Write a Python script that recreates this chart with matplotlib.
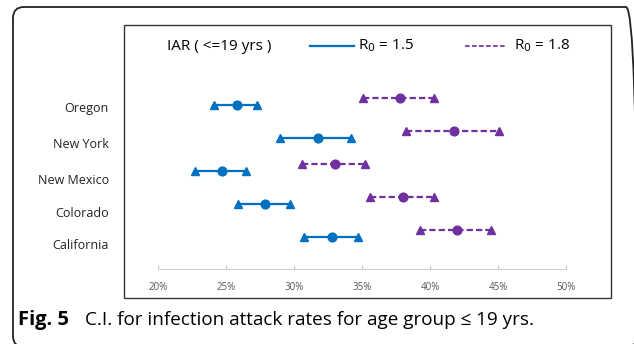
import numpy as np
import matplotlib
matplotlib.use("Agg")
import matplotlib.pyplot as plt
from matplotlib.lines import Line2D
from matplotlib.patches import Rectangle, FancyBboxPatch

plt.rcParams['font.family'] = ['Open Sans', 'DejaVu Sans']

# data (percent), rows listed bottom -> top
states = ["California", "Colorado", "New Mexico", "New York", "Oregon"]
r15_low = [30.7, 25.9, 22.7, 29.0, 24.1]
r15_mid = [32.8, 27.9, 24.7, 31.8, 25.8]
r15_high = [34.7, 29.7, 26.5, 34.2, 27.3]
r18_low = [39.3, 35.6, 30.6, 38.2, 35.1]
r18_mid = [42.0, 38.0, 33.0, 41.8, 37.8]
r18_high = [44.5, 40.3, 35.2, 45.1, 40.3]
xticks = [20, 25, 30, 35, 40, 45, 50]

blue = "#0070C0"
purple = "#7030A0"
W, H = 634, 344

fig = plt.figure(figsize=(W / 100, H / 100), dpi=100)

# pixel coords -> figure fraction
def fx(px):
    return px / W

def fy(py):
    return 1 - py / H

# outer rounded frame, in inches so the corners stay round
outer = FancyBboxPatch((0.13, (H - 347) / 100), 6.37 - 0.13, (347 - 7) / 100,
                       boxstyle="round,pad=0,rounding_size=0.11",
                       transform=fig.dpi_scale_trans, fill=False,
                       edgecolor="#222222", linewidth=1.3, clip_on=False)
fig.patches.append(outer)
inner = Rectangle((fx(124), fy(298)), fx(611) - fx(124), fy(25) - fy(298),
                  transform=fig.transFigure, fill=False,
                  edgecolor="#333333", linewidth=1.0)
fig.patches.append(inner)

ax = fig.add_axes([fx(124), fy(269), fx(611) - fx(124), fy(25) - fy(269)])
ax.patch.set_alpha(0)

y = np.arange(len(states))
off = 0.21

for i in range(len(states)):
    ax.plot([r15_low[i], r15_high[i]], [y[i], y[i]], color=blue, lw=1.6, zorder=2)
    ax.plot([r18_low[i], r18_high[i]], [y[i] + off, y[i] + off], color=purple,
            lw=1.6, ls=(0, (2.8, 1.4)), zorder=2)
ax.plot(r15_low + r15_high, list(y) * 2, ls="none", marker="^", ms=6.3, color=blue, zorder=3)
ax.plot(r15_mid, y, ls="none", marker="o", ms=6.3, color=blue, zorder=3)
ax.plot(r18_low + r18_high, list(y + off) * 2, ls="none", marker="^", ms=6.3, color=purple, zorder=3)
ax.plot(r18_mid, y + off, ls="none", marker="o", ms=6.3, color=purple, zorder=3)

ax.set_xlim(17.5, 53.31)
ax.set_ylim(-0.97, 6.42)

for s in ["top", "right", "left"]:
    ax.spines[s].set_visible(False)
ax.spines["bottom"].set_bounds(20, 50)
ax.spines["bottom"].set_color("#d0d0d0")
ax.set_xticks(xticks)
ax.set_xticklabels([f"{v}%" for v in xticks])
ax.tick_params(axis="x", direction="in", length=3, color="#c8c8c8",
               labelsize=7, labelcolor="#595959", pad=9)

label_pos = [-0.21, 0.76, 1.76, 2.85, 3.94]
ax.set_yticks(label_pos)
ax.set_yticklabels(states)
ax.tick_params(axis="y", length=0, labelsize=9, labelcolor="#222222", pad=11)

# legend laid out like the original
fig.text(fx(167), fy(46), "IAR ( <=19 yrs )", fontsize=11, va="center", ha="left")
fig.add_artist(Line2D([fx(310), fx(354)], [fy(46), fy(46)], color=blue, lw=1.6,
                      transform=fig.transFigure))
fig.text(fx(358), fy(46), r"R$_0$ = 1.5", fontsize=11, va="center", ha="left")
fig.add_artist(Line2D([fx(465), fx(506)], [fy(46), fy(46)], color=purple, lw=1.2,
                      ls=(0, (2.8, 1.4)), transform=fig.transFigure))
fig.text(fx(514), fy(46), r"R$_0$ = 1.8", fontsize=11, va="center", ha="left")

# caption
fig.text(fx(18), fy(320), "Fig. 5", fontsize=14.5, fontweight="bold", va="center", ha="left")
fig.text(fx(85), fy(320), "C.I. for infection attack rates for age group \u2264 19 yrs.",
         fontsize=13.6, va="center", ha="left")

fig.savefig("out.png", dpi=100)
